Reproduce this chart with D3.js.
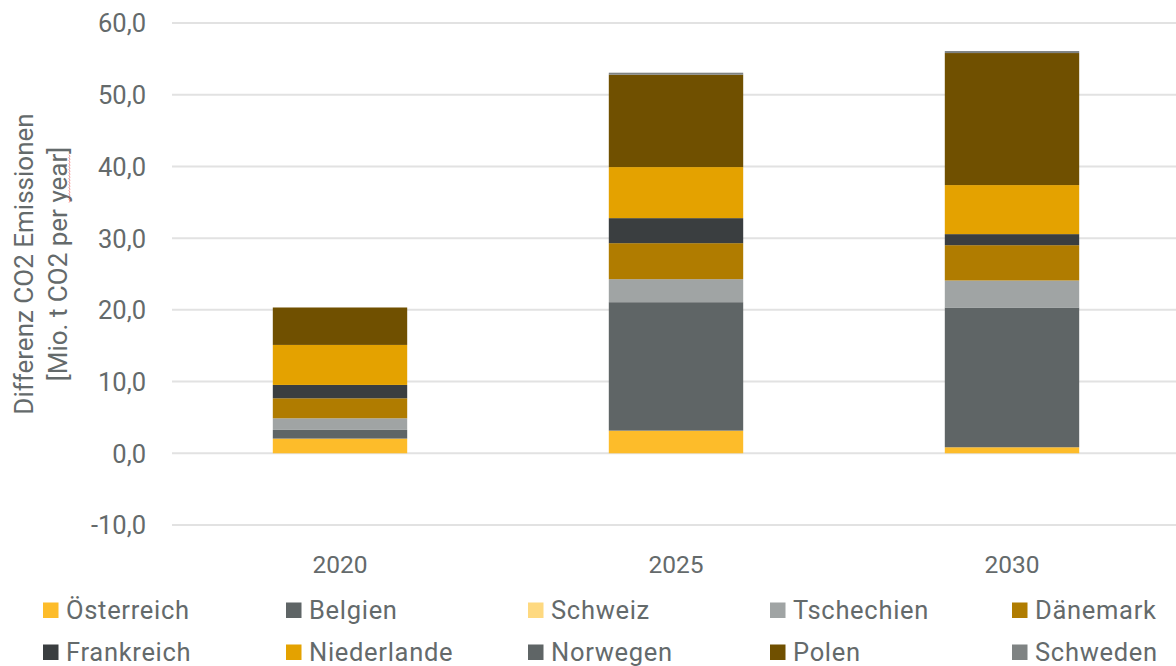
<!DOCTYPE html>
<html>
<head>
<meta charset="utf-8">
<script src="https://cdn.jsdelivr.net/npm/d3@7"></script>
<style>
  html, body { margin: 0; padding: 0; background: #fff; }
  svg { display: block; }
  text { font-family: Roboto, "Liberation Sans", sans-serif; fill: #646a6b; }
</style>
</head>
<body>
<svg id="chart" width="1176" height="666"></svg>
<script>
// Years on the x axis
const years = ["2020", "2025", "2030"];

// Countries in stacking order (bottom to top)
const countries = ["Österreich", "Belgien", "Schweiz", "Tschechien", "Dänemark",
                   "Frankreich", "Niederlande", "Norwegen", "Polen", "Schweden"];

// Difference in CO2 emissions per country [Mio. t CO2 per year], one value per year
const oesterreich = [2.05, 3.16, 0.84];
const belgien     = [1.21, 17.91, 19.49];
const schweiz     = [0.0, 0.0, 0.0];
const tschechien  = [1.62, 3.21, 3.76];
const daenemark   = [2.79, 5.02, 4.93];
const frankreich  = [1.86, 3.49, 1.54];
const niederlande = [5.58, 7.12, 6.84];
const norwegen    = [0.0, 0.0, 0.0];
const polen       = [5.22, 12.88, 18.41];
const schweden    = [0.0, 0.28, 0.28];

const seriesValues = [oesterreich, belgien, schweiz, tschechien, daenemark,
                      frankreich, niederlande, norwegen, polen, schweden];

const colors = ["#fdbc2a", "#5f6566", "#fed980", "#a0a4a4", "#b07c00",
                "#3a3e40", "#e4a200", "#5f6566", "#705000", "#7f8383"];

const yTicks = [-10, 0, 10, 20, 30, 40, 50, 60];

// Build rows for d3.stack
const rows = years.map((y, i) => {
  const r = { year: y };
  countries.forEach((c, k) => { r[c] = seriesValues[k][i]; });
  return r;
});

const svg = d3.select("#chart");
const margin = { left: 172, right: -4, top: 23, bottom: 141 };
const W = 1176, H = 666;

const x = d3.scaleBand()
  .domain(years)
  .range([margin.left, W - margin.right])
  .paddingInner(0.6)
  .paddingOuter(0.3);

const y = d3.scaleLinear()
  .domain([-10, 60])
  .range([H - margin.bottom, margin.top]);

// Horizontal gridlines
svg.append("g")
  .selectAll("line")
  .data(yTicks)
  .join("line")
  .attr("x1", margin.left)
  .attr("x2", W)
  .attr("y1", d => y(d))
  .attr("y2", d => y(d))
  .attr("stroke", "#e2e2e2")
  .attr("stroke-width", 2);

// Y axis tick labels (German decimal comma)
const fmt = d => d3.format(".1f")(d).replace(".", ",").replace("−", "-");
const yAxis = d3.axisLeft(y).tickValues(yTicks).tickFormat(fmt).tickSize(0).tickPadding(0);
const gy = svg.append("g")
  .attr("transform", `translate(146,0)`)
  .call(yAxis);
gy.select(".domain").remove();
gy.selectAll("text")
  .style("font-size", "25.5px")
  .style("font-family", "Roboto, sans-serif")
  .attr("fill", "#646a6b")
  .attr("dy", "0.35em");

// Stacked bars
const stack = d3.stack().keys(countries);
const stacked = stack(rows);

svg.append("g")
  .selectAll("g")
  .data(stacked)
  .join("g")
  .attr("fill", (d, i) => colors[i])
  .selectAll("rect")
  .data(d => d)
  .join("rect")
  .attr("x", d => x(d.data.year))
  .attr("width", x.bandwidth())
  .attr("y", d => y(d[1]))
  .attr("height", d => Math.max(0, y(d[0]) - y(d[1])));

// X axis labels
const xAxis = d3.axisBottom(x).tickSize(0).tickPadding(0);
const gx = svg.append("g")
  .attr("transform", `translate(0,564)`)
  .call(xAxis);
gx.select(".domain").remove();
gx.selectAll("text")
  .style("font-size", "24.5px")
  .style("font-family", "Roboto, sans-serif")
  .attr("fill", "#646a6b")
  .attr("dy", "0.35em");

// Y axis title (two lines, rotated)
const titleG = svg.append("g").attr("transform", "translate(0,264) rotate(-90)");
const title = titleG.append("text")
  .attr("text-anchor", "middle")
  .style("font-size", "26px");
title.append("tspan").attr("x", 0).attr("y", 33).text("Differenz CO2 Emissionen");
const line2 = title.append("tspan").attr("x", 0).attr("y", 67).text("[Mio. t CO2 per year]");

// Spell-check style wavy underline below "year"
const full = title.node();
const line1Len = "Differenz CO2 Emissionen".length;
const i0 = line2.text().indexOf("year");
const sx = full.getStartPositionOfChar(line1Len + i0).x;
const ex = full.getEndPositionOfChar(line1Len + i0 + 3).x;
const wave = [];
for (let p = sx, k = 0; p <= ex; p += 1.5, k++) wave.push([p, 69 + (k % 2 ? 1 : 0)]);
titleG.append("path")
  .attr("d", d3.line()(wave))
  .attr("fill", "none")
  .attr("stroke", "#e34040")
  .attr("stroke-width", 0.8)
  .attr("opacity", 0.7);

// Legend: 5 columns, 2 rows
const legend = svg.append("g");
const colX = [43, 286, 528, 770, 1012];
const rowY = [610, 652];
countries.forEach((c, i) => {
  const gx0 = colX[i % 5], gy0 = rowY[Math.floor(i / 5)];
  const g = legend.append("g").attr("transform", `translate(${gx0},${gy0})`);
  g.append("rect").attr("x", 0).attr("y", -7.5).attr("width", 15.5).attr("height", 15.5).attr("fill", colors[i]);
  g.append("text").attr("x", 23).attr("y", 0).attr("dy", "0.35em")
    .style("font-size", "25.5px")
    .style("letter-spacing", "0.7px")
    .text(c);
});
</script>
</body>
</html>
